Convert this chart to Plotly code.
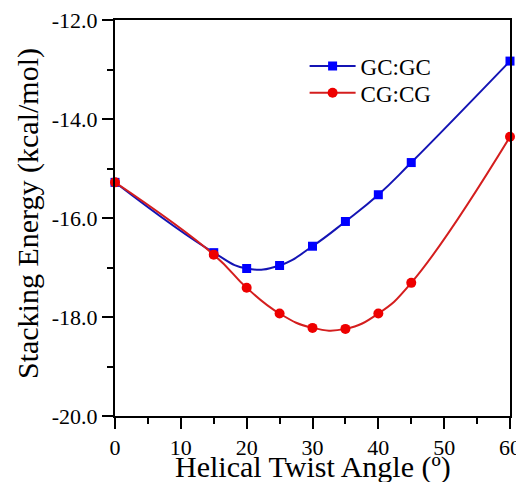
import plotly.graph_objects as go

angles = [0, 15, 20, 25, 30, 35, 40, 45, 60]
gc_gc = [-15.28, -16.70, -17.02, -16.96, -16.57, -16.07, -15.53, -14.88, -12.83]
cg_cg = [-15.28, -16.74, -17.41, -17.93, -18.22, -18.24, -17.93, -17.31, -14.36]

y_tick_vals = [-20, -18, -16, -14, -12]
y_tick_text = ["-20.0", "-18.0", "-16.0", "-14.0", "-12.0"]
x_tick_vals = [0, 10, 20, 30, 40, 50, 60]
x_tick_text = ["0", "10", "20", "30", "40", "50", "60"]

x_title = "Helical Twist Angle (º)"
y_title = "Stacking Energy (kcal/mol)"

FONT = "Liberation Serif, Times New Roman, serif"
OFF = 8  # page body margin

fig = go.Figure()
fig.add_trace(go.Scatter(
    x=angles, y=gc_gc, name="GC:GC", mode="lines+markers",
    line=dict(color="#1414b4", width=2, shape="spline", smoothing=1.3),
    marker=dict(symbol="square", size=9, color="#0000ff"),
    cliponaxis=False, legend="legend",
))
fig.add_trace(go.Scatter(
    x=angles, y=cg_cg, name="CG:CG", mode="lines+markers",
    line=dict(color="#d41e1e", width=2, shape="spline", smoothing=1.3),
    marker=dict(symbol="circle", size=10, color="#ee0000"),
    cliponaxis=False, legend="legend2",
))

leg_common = dict(xanchor="left", yanchor="middle", bgcolor="rgba(0,0,0,0)",
                  font=dict(family=FONT, size=23), itemwidth=46)

fig.update_layout(
    width=524, height=482,
    margin=dict(l=115 - OFF, r=14 + OFF, t=20 - OFF, b=66 + OFF),
    paper_bgcolor="white", plot_bgcolor="white",
    font=dict(family=FONT, color="black", size=19),
    showlegend=True,
    legend=dict(x=0.48, y=0.884, **leg_common),
    legend2=dict(x=0.48, y=0.816, **leg_common),
    annotations=[
        dict(text=x_title, xref="paper", yref="paper", x=0.5, y=0,
             xanchor="center", yanchor="middle", yshift=-51, showarrow=False,
             font=dict(family=FONT, size=30)),
        dict(text=y_title, xref="paper", yref="paper", x=0, y=0.51,
             xanchor="center", yanchor="middle", xshift=-87, textangle=-90,
             showarrow=False, font=dict(family=FONT, size=30)),
    ],
)
fig.update_xaxes(
    range=[0, 60], tickvals=x_tick_vals, ticktext=x_tick_text,
    ticks="outside", ticklen=11, tickwidth=2, tickcolor="black",
    minor=dict(dtick=5, tick0=0, ticks="outside", ticklen=6, tickwidth=2, tickcolor="black", showgrid=False),
    showline=True, linewidth=2, linecolor="black", mirror=True,
    showgrid=False, zeroline=False, automargin=False,
    tickfont=dict(family=FONT, size=22), ticklabeloverflow="allow",
)
fig.update_yaxes(
    range=[-20, -12], tickvals=y_tick_vals, ticktext=y_tick_text,
    ticks="outside", ticklen=11, tickwidth=2, tickcolor="black",
    minor=dict(dtick=1, tick0=-20, ticks="outside", ticklen=6, tickwidth=2, tickcolor="black", showgrid=False),
    showline=True, linewidth=2, linecolor="black", mirror=True,
    showgrid=False, zeroline=False, automargin=False,
    tickfont=dict(family=FONT, size=22), ticklabeloverflow="allow",
)

fig.write_html("out.html")
